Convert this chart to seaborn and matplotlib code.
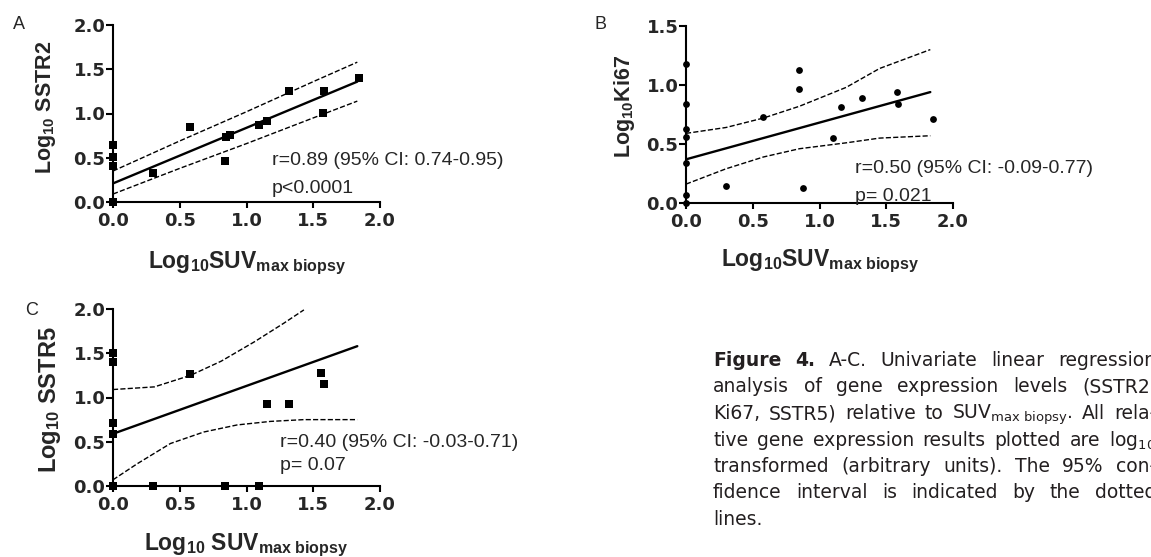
import matplotlib
matplotlib.use("Agg")
import matplotlib.pyplot as plt
import seaborn as sns
from matplotlib.ticker import FormatStrFormatter

# Panel A - SSTR2 vs SUVmax biopsy (square markers)
a_x = [0, 0, 0, 0, 0.30, 0.58, 0.84, 0.85, 0.88, 1.09, 1.15, 1.32, 1.58, 1.57, 1.84]
a_y = [0.64, 0.51, 0.41, 0.0, 0.33, 0.85, 0.46, 0.74, 0.76, 0.87, 0.92, 1.25, 1.25, 1.01, 1.40]
a_fit_x = [0, 1.83]
a_fit_y = [0.21, 1.36]
a_ci_x = [0, 0.5, 1.0, 1.5, 1.83]
a_ci_hi = [0.35, 0.69, 1.02, 1.36, 1.58]
a_ci_lo = [0.09, 0.38, 0.66, 0.95, 1.14]

# Panel B - Ki67 vs SUVmax biopsy (round markers)
b_x = [0, 0, 0, 0, 0, 0, 0, 0.30, 0.58, 0.85, 0.85, 0.88, 1.10, 1.16, 1.32, 1.58, 1.59, 1.85]
b_y = [1.18, 0.84, 0.63, 0.56, 0.34, 0.07, 0.0, 0.14, 0.73, 1.13, 0.97, 0.13, 0.55, 0.81, 0.89, 0.94, 0.84, 0.71]
b_fit_x = [0, 1.83]
b_fit_y = [0.37, 0.94]
b_ci_x = [0, 0.3, 0.58, 0.85, 1.2, 1.45, 1.83]
b_ci_hi = [0.59, 0.64, 0.72, 0.82, 0.98, 1.14, 1.30]
b_ci_lo = [0.16, 0.29, 0.39, 0.46, 0.51, 0.55, 0.57]

# Panel C - SSTR5 vs SUVmax biopsy (square markers)
c_x = [0, 0, 0, 0, 0, 0.30, 0.58, 0.84, 1.09, 1.15, 1.32, 1.56, 1.58]
c_y = [1.50, 1.40, 0.71, 0.59, 0.0, 0.0, 1.26, 0.0, 0.0, 0.93, 0.93, 1.28, 1.15]
c_fit_x = [0, 1.83]
c_fit_y = [0.59, 1.58]
c_hi_x = [0, 0.31, 0.58, 0.81, 1.06, 1.28, 1.43]
c_ci_hi = [1.09, 1.12, 1.25, 1.41, 1.63, 1.84, 1.99]
c_lo_x = [0, 0.18, 0.43, 0.68, 0.93, 1.18, 1.43, 1.83]
c_ci_lo = [0.07, 0.25, 0.48, 0.61, 0.69, 0.73, 0.75, 0.75]

stats_a = ["r=0.89 (95% CI: 0.74-0.95)", "p<0.0001"]
stats_b = ["r=0.50 (95% CI: -0.09-0.77)", "p= 0.021"]
stats_c = ["r=0.40 (95% CI: -0.03-0.71)", "p= 0.07"]

caption_lines = [
    ["Figure", "4.", "A-C.", "Univariate", "linear", "regression"],
    ["analysis", "of", "gene", "expression", "levels", "(SSTR2,"],
    ["Ki67,", "SSTR5)", "relative", "to", r"SUV$_{\mathregular{max\ biopsy}}$.", "All", "rela-"],
    ["tive", "gene", "expression", "results", "plotted", "are", r"log$_{\mathregular{10}}$"],
    ["transformed", "(arbitrary", "units).", "The", "95%", "con-"],
    ["fidence", "interval", "is", "indicated", "by", "the", "dotted"],
    ["lines."],
]

W, H = 1151, 557
sns.set_style("ticks")
plt.rcParams["font.family"] = ["Liberation Sans", "DejaVu Sans"]
plt.rcParams["mathtext.fontset"] = "custom"
plt.rcParams["mathtext.rm"] = "Liberation Sans"
plt.rcParams["mathtext.bf"] = "Liberation Sans:bold"
plt.rcParams["mathtext.it"] = "Liberation Sans:italic"

fig = plt.figure(figsize=(W / 100, H / 100), dpi=100)


def px_axes(left, top, right, bottom):
    return fig.add_axes([left / W, 1 - bottom / H, (right - left) / W, (bottom - top) / H])


def panel(ax, xs, ys, marker, msize, fit_x, fit_y, hi_x, hi_y, lo_x, lo_y, ymax):
    sns.lineplot(x=fit_x, y=fit_y, ax=ax, color="black", linewidth=1.7, estimator=None, sort=False)
    sns.lineplot(x=hi_x, y=hi_y, ax=ax, color="black", linewidth=1.0, linestyle="--",
                 dashes=(3.7, 2.2), estimator=None, sort=False)
    sns.lineplot(x=lo_x, y=lo_y, ax=ax, color="black", linewidth=1.0, linestyle="--",
                 dashes=(3.7, 2.2), estimator=None, sort=False)
    sns.scatterplot(x=xs, y=ys, ax=ax, marker=marker, s=msize, color="black",
                    linewidth=0, clip_on=False, zorder=5)
    ax.set_xlim(0, 2)
    ax.set_ylim(0, ymax)
    ax.set_xticks([0, 0.5, 1.0, 1.5, 2.0])
    ax.set_yticks([v * 0.5 for v in range(int(ymax / 0.5) + 1)])
    ax.xaxis.set_major_formatter(FormatStrFormatter("%.1f"))
    ax.yaxis.set_major_formatter(FormatStrFormatter("%.1f"))
    sns.despine(ax=ax)
    for sp in ["left", "bottom"]:
        ax.spines[sp].set_linewidth(1.5)
        ax.spines[sp].set_color("black")
    ax.tick_params(axis="y", direction="out", length=5, width=1.5, pad=0.5,
                   labelsize=13, labelfontfamily="DejaVu Sans", color="black")
    ax.tick_params(axis="x", direction="out", length=4.5, width=1.5, pad=2.5,
                   labelsize=13, labelfontfamily="DejaVu Sans", color="black")
    for lbl in ax.get_xticklabels() + ax.get_yticklabels():
        lbl.set_fontweight("bold")
    ax.patch.set_alpha(0)


# Panel A
ax_a = px_axes(113, 25, 380, 202)
panel(ax_a, a_x, a_y, "s", 26, a_fit_x, a_fit_y, a_ci_x, a_ci_hi, a_ci_x, a_ci_lo, 2.0)
ax_a.set_xlabel(r"$\mathbf{Log_{10}SUV_{max\ biopsy}}$", fontsize=16.5)
ax_a.set_ylabel(r"$\mathbf{Log_{10}\ SSTR2}$", fontsize=15.5)
ax_a.xaxis.set_label_coords(0.5, -0.27)
ax_a.yaxis.set_label_coords(-0.206, 0.537)
ax_a.text(1.19, 0.42, stats_a[0], fontsize=14, va="baseline")
ax_a.text(1.19, 0.10, stats_a[1], fontsize=14, va="baseline")

# Panel B
ax_b = px_axes(686, 26, 953, 203)
panel(ax_b, b_x, b_y, "o", 24, b_fit_x, b_fit_y, b_ci_x, b_ci_hi, b_ci_x, b_ci_lo, 1.5)
ax_b.set_xlabel(r"$\mathbf{Log_{10}SUV_{max\ biopsy}}$", fontsize=16.5)
ax_b.set_ylabel(r"$\mathbf{Log_{10}Ki67}$", fontsize=15.5)
ax_b.xaxis.set_label_coords(0.5, -0.25)
ax_b.yaxis.set_label_coords(-0.184, 0.545)
ax_b.text(1.266, 0.253, stats_b[0], fontsize=14, va="baseline")
ax_b.text(1.266, 0.017, stats_b[1], fontsize=14, va="baseline")

# Panel C
ax_c = px_axes(113, 309, 380, 486)
panel(ax_c, c_x, c_y, "s", 26, c_fit_x, c_fit_y, c_hi_x, c_ci_hi, c_lo_x, c_ci_lo, 2.0)
ax_c.set_xlabel(r"$\mathbf{Log_{10}\ SUV_{max\ biopsy}}$", fontsize=16.5)
ax_c.set_ylabel(r"$\mathbf{Log_{10}\ SSTR5}$", fontsize=17)
ax_c.xaxis.set_label_coords(0.5, -0.255)
ax_c.yaxis.set_label_coords(-0.187, 0.486)
ax_c.text(1.25, 0.44, stats_c[0], fontsize=14, va="baseline")
ax_c.text(1.25, 0.18, stats_c[1], fontsize=14, va="baseline")

# panel letters
fig.text(13 / W, 1 - 29 / H, "A", fontsize=13, va="baseline")
fig.text(595 / W, 1 - 29 / H, "B", fontsize=13, va="baseline")
fig.text(25 / W, 1 - 315 / H, "C", fontsize=13, va="baseline")

# justified caption, running off the right edge like the source
cap_left, cap_right = 713, 1156
cap_base, cap_step = 366, 26.5
fig.canvas.draw()
renderer = fig.canvas.get_renderer()
for i, words in enumerate(caption_lines):
    y = 1 - (cap_base + i * cap_step) / H
    objs = []
    for j, w in enumerate(words):
        weight = "bold" if (i == 0 and j < 2) else "normal"
        objs.append(fig.text(0, y, w, fontsize=13.5, family="DejaVu Sans", fontweight=weight,
                             va="baseline", color="#231f20", math_fontfamily="dejavusans"))
    widths = [o.get_window_extent(renderer).width for o in objs]
    if i < len(caption_lines) - 1 and len(words) > 1:
        gap = (cap_right - cap_left - sum(widths)) / (len(words) - 1)
    else:
        gap = 6
    x = cap_left
    for o, wd in zip(objs, widths):
        o.set_x(x / W)
        x += wd + gap

fig.savefig("out.png", dpi=100)
